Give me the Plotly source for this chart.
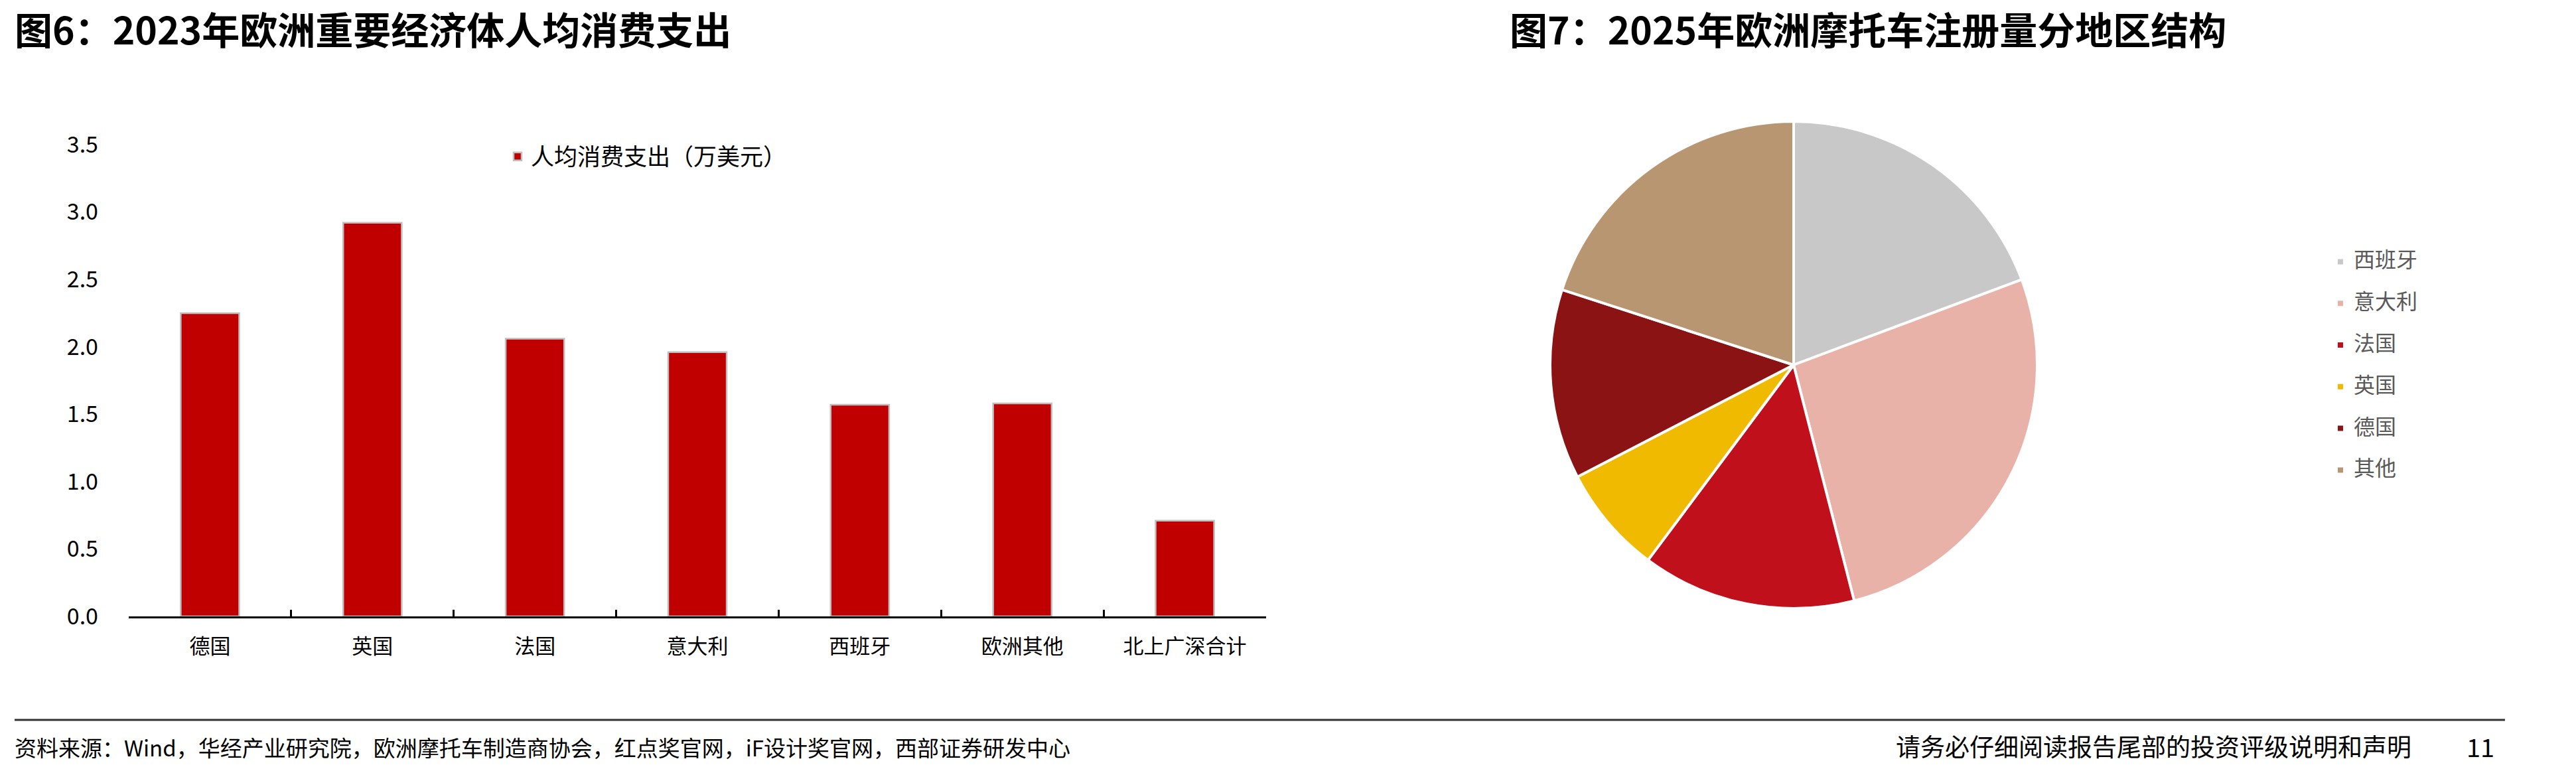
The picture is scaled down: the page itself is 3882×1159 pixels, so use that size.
import plotly.graph_objects as go

W, H = 3882, 1159

# ---------------- data ----------------
bar_categories = ["德国", "英国", "法国", "意大利", "西班牙", "欧洲其他", "北上广深合计"]
bar_values = [2.25, 2.92, 2.06, 1.96, 1.57, 1.58, 0.71]
bar_series_name = "人均消费支出（万美元）"
y_ticks = [0.0, 0.5, 1.0, 1.5, 2.0, 2.5, 3.0, 3.5]

pie_labels = ["西班牙", "意大利", "法国", "英国", "德国", "其他"]
pie_values = [19.3, 26.7, 14.2, 7.2, 12.6, 20.0]
pie_colors = ["#C8C8C8", "#E8B2A8", "#C0101C", "#F0BA00", "#8B1314", "#B99672"]

title_left = "图6：2023年欧洲重要经济体人均消费支出"
title_right = "图7：2025年欧洲摩托车注册量分地区结构"
source_text = "资料来源：Wind，华经产业研究院，欧洲摩托车制造商协会，红点奖官网，iF设计奖官网，西部证券研发中心"
disclaimer_text = "请务必仔细阅读报告尾部的投资评级说明和声明"
page_number = "11"

FONT = "Noto Sans CJK SC, Noto Sans, sans-serif"


def fx(p):
    return p / W


def fy(p):
    return 1 - p / H


# legend entries for the pie: larger visible text plus a blank line to get the wider row pitch
pie_legend_labels = [f"<span style='font-size:32px'>{lab}</span><br>\u00a0" for lab in pie_labels]

fig = go.Figure()

fig.add_trace(go.Bar(
    x=bar_categories,
    y=bar_values,
    name=bar_series_name,
    width=0.36,
    showlegend=True,
    marker=dict(color="#C00000", line=dict(color="#BFBFBF", width=2.5)),
    legend="legend",
    hovertemplate="%{x}: %{y:.2f}<extra></extra>",
))

fig.add_trace(go.Pie(
    labels=pie_legend_labels,
    values=pie_values,
    customdata=pie_labels,
    sort=False,
    direction="clockwise",
    rotation=0,
    textinfo="none",
    showlegend=True,
    marker=dict(colors=pie_colors, line=dict(color="white", width=4)),
    domain=dict(x=[fx(2703 - 367), fx(2703 + 367)], y=[fy(550 + 367), fy(550 - 367)]),
    legend="legend2",
    hovertemplate="%{customdata}: %{value}<extra></extra>",
))

L_small = 23 * 1.3

fig.update_layout(
    width=W,
    height=H,
    autosize=False,
    showlegend=True,
    margin=dict(l=0, r=0, t=0, b=0, pad=0, autoexpand=False),
    paper_bgcolor="white",
    plot_bgcolor="white",
    font=dict(family=FONT, color="#000000"),
    xaxis=dict(
        domain=[fx(194), fx(1908)],
        type="category",
        automargin=False,
        showline=True,
        linecolor="#000000",
        linewidth=3,
        ticks="inside",
        tickson="boundaries",
        ticklen=10,
        tickwidth=3,
        tickcolor="#000000",
        tickfont=dict(size=31, color="#000000"),
        ticklabelstandoff=16,
        showgrid=False,
        zeroline=False,
    ),
    yaxis=dict(
        domain=[fy(929), fy(218)],
        range=[0, 3.5],
        automargin=False,
        tickmode="array",
        tickvals=y_ticks,
        tickformat=".1f",
        showgrid=False,
        zeroline=False,
        showline=False,
        ticks="",
        tickfont=dict(size=34, color="#000000"),
        ticklabelstandoff=45,
    ),
    legend=dict(
        x=fx(760),
        y=fy(236),
        xanchor="left",
        yanchor="middle",
        font=dict(size=35, color="#000000"),
        bgcolor="rgba(0,0,0,0)",
        borderwidth=0,
        visible=True,
    ),
    legend2=dict(
        x=fx(3507),
        y=fy(551.5 + L_small / 2),
        xanchor="left",
        yanchor="middle",
        valign="top",
        font=dict(size=23, color="#595959"),
        bgcolor="rgba(0,0,0,0)",
        borderwidth=0,
        visible=True,
    ),
    shapes=[
        dict(type="line", xref="paper", yref="paper",
             x0=fx(22), x1=fx(3775), y0=fy(1085), y1=fy(1085),
             line=dict(color="#333333", width=3)),
    ],
    annotations=[
        dict(text=title_left, xref="paper", yref="paper", x=fx(20), y=fy(42),
             xanchor="left", yanchor="middle", showarrow=False,
             font=dict(size=57, color="#000000", weight="bold")),
        dict(text=title_right, xref="paper", yref="paper", x=fx(2273), y=fy(42),
             xanchor="left", yanchor="middle", showarrow=False,
             font=dict(size=57, color="#000000", weight="bold")),
        dict(text=source_text, xref="paper", yref="paper", x=fx(20), y=fy(1126),
             xanchor="left", yanchor="middle", showarrow=False,
             font=dict(size=33, color="#000000")),
        dict(text=disclaimer_text, xref="paper", yref="paper", x=fx(3636), y=fy(1124),
             xanchor="right", yanchor="middle", showarrow=False,
             font=dict(size=37, color="#000000")),
        dict(text=page_number, xref="paper", yref="paper", x=fx(3738), y=fy(1124),
             xanchor="center", yanchor="middle", showarrow=False,
             font=dict(size=38, color="#000000")),
    ],
)

fig.write_html("out.html")
